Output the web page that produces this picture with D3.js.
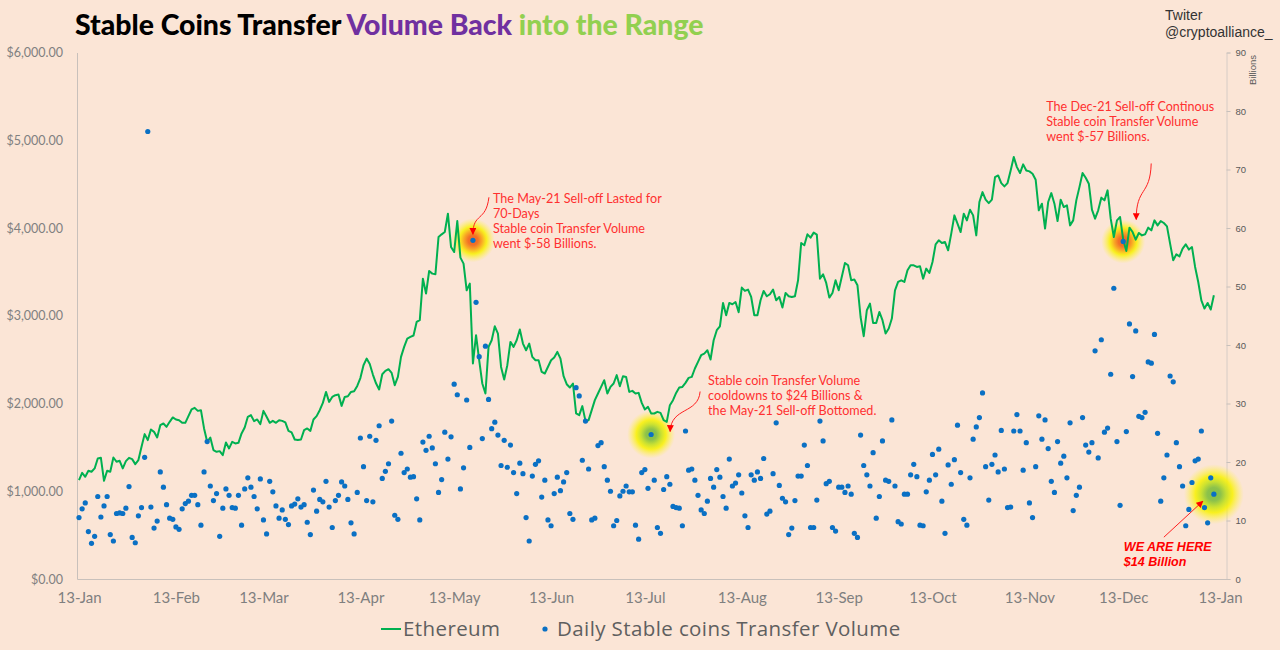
<!DOCTYPE html>
<html>
<head>
<meta charset="utf-8">
<script src="https://cdn.jsdelivr.net/npm/d3@7"></script>
<style>
  body { margin: 0; background: #fbe5d6; }
  svg { display: block; }
</style>
</head>
<body>
<script>
let w = 1280;
let h = 650;

// first day of both series (13-Jan-2021), one value per day after that
const startDay = Date.UTC(2021, 0, 13);

// ETH close in USD (null = could not read)
const ethPrice = [
  1127, 1210, 1165, 1233, 1222, 1260, 1374, 1381, 1119, 1233,
  1222, 1385, 1336, 1347, 1260, 1343, 1381, 1366, 1309, 1355,
  1506, 1651, 1583, 1704, 1677, 1613, 1753, 1772, 1734, 1791,
  1841, 1818, 1810, 1780, 1780, 1856, 1932, 1950, 1916, 1924,
  1716, 1563, 1613, 1469, 1449, 1457, 1412, 1556, 1488, 1563,
  1545, 1552, 1659, 1727, 1848, 1867, 1799, 1818, 1765, 1916,
  1848, 1780, 1802, 1780, 1810, 1802, 1784, 1688, 1670, 1590,
  1583, 1590, 1696, 1716, 1688, 1818, 1856, 1924, 2007, 2132,
  2018, 2075, 2095, 2102, 1973, 2075, 2083, 2132, 2140, 2200,
  2290, 2436, 2512, 2450, 2330, 2230, 2160, 2334, 2372, 2391,
  2349, 2209, 2303, 2531, 2645, 2740, 2759, 2775, 2929, 2949,
  3423, 3253, 3510, 3480, 3472, 3897, 3928, 3954, 4163, 3783,
  3726, 4079, 3662, 3594, 3290, 3366, 2456, 2778, 2493, 2228,
  2114, 2645, 2721, 2880, 2797, 2417, 2274, 2436, 2702, 2645,
  2721, 2843, 2683, 2607, 2683, 2531, 2493, 2493, 2360, 2342,
  null, 2493, 2524, 2588, 2512, 2311, 2220, 2182, 2228, 1887,
  1867, 1970, 1802, 1810, 1924, 2038, 2114, 2189, 2265, 2114,
  2189, 2228, 2323, 2197, 2311, 2303, 2132, 2144, 2114, 2121,
  2007, 1932, 1962, 1887, 1886, 1905, 1893, 1810, 1791, 1981,
  2038, 2121, 2182, 2189, 2235, 2292, 2303, 2399, 2474, 2550,
  2569, 2607, 2501, 2721, 2835, 2880, 3146, 3006, 3146, 3131,
  3157, 3040, 3321, 3283, 3298, 3214, 3006, 3006, 3176, 3283,
  3222, 3245, 3298, 3176, 3214, 3093, 3260, 3222, 3214, 3222,
  3404, 3829, 3803, 3928, 3890, 3947, 3924, 3423, 3472, 3374,
  3207, 3260, 3404, 3290, null, 3601, 3575, 3404, 3412, 3347,
  2986, 2767, 3063, 3139, 2918, 2918, 3043, 2949, 2797, 2854,
  2968, 3290, 3385, 3404, 3385, 3518, 3575, 3575, 3556, 3563,
  3423, 3537, 3487, 3613, 3814, 3860, 3829, 3840, 3746, 3936,
  4144, 4050, 3954, 4163, 4087, 4209, 4144, 3916, 4296, 4409,
  4323, 4284, 4323, 4580, 4599, 4512, 4474, 4512, 4656, 4808,
  4694, 4626, 4725, 4656, 4645, 4619, 4550, 4201, 4277, 3993,
  4296, 4398, 4277, 4079, 4323, 4239, 4258, 4030, 4087, 4315,
  4466, 4626, 4573, 4505, 4209, 4106, 4201, 4346, 4315, 4429,
  4106, 3897, 4087, 4125, 3867, 3738, 4004, 3954, 3867, 3943,
  3916, 3928, 4004, 3973, 4087, 4030, 4079, 4057, 4019, 3822,
  3632, 3700, 3677, 3765, 3814, 3754, 3783, 3556, 3385, 3176,
  3082, 3146, 3071, 3233,
];

// daily stable coin transfer volume, billions
const dailyVolume = [
  10.5, 12.0, 13.0, 8.1, 6.1, 7.3, 14.1, 10.6, 12.5, 14.1,
  7.6, 6.5, 11.2, 11.3, 11.2, 12.1, 15.8, 7.1, 6.2, 10.8,
  12.2, 20.8, 76.5, 12.3, 8.7, 9.9, 18.3, 15.7, 12.7, 10.4,
  10.2, 8.9, 8.5, 12.0, 12.9, 13.3, 14.3, 14.3, 12.7, 9.2,
  18.3, 23.5, 15.9, 13.4, 14.6, 7.3, 12.1, 15.4, 14.3, 12.2,
  12.1, 14.3, 9.2, 15.4, 17.3, 15.7, 14.1, 12.0, 17.1, 10.1,
  7.7, 16.7, 14.9, 12.5, 10.4, 11.8, 10.2, 9.3, 12.5, 12.8,
  13.7, 12.3, 12.7, 9.7, 7.6, 15.2, 11.6, 13.6, 13.2, 16.7,
  12.3, 8.8, 13.4, 14.3, 16.6, 15.9, 13.6, 9.6, 7.7, 14.8,
  24.1, 19.2, 13.4, 24.4,
  13.2, 23.7, 26.2, 17.2, 18.4, 19.7, 27.0, 10.9, 10.2, 21.5,
  18.2, 18.8, 17.4, 17.5, 13.7, 10.1, 23.4, 22.0, 24.4, 22.4,
  19.7, 14.8, 17.0, 25.1, 20.5, 24.3, 33.3, 31.5, 15.4, 19.0,
  30.6, 22.5, 57.9, 47.3, 38.0, 24.0, 39.8, 30.7, 25.7, 26.8,
  24.6, 19.4, 23.7, 19.1, 22.9, 18.2, 14.6, 19.8, 18.0, 10.5,
  6.5, 17.6, 19.6, 20.2, 14.0, 16.9, 10.1, 9.1, 14.6, 17.4,
  15.1, 16.6, 18.2, 11.2, 10.2, 32.7, 31.3, 20.3, 27.0, 18.8,
  10.1, 10.4, 22.8, 23.3, 19.2, 16.9, 15.0, 9.1, 10.0, 14.2,
  15.0, 15.9, 14.9, 14.9, 9.2, 6.8, 18.2, 18.7, 15.5, 24.7,
  16.9, 8.8, 7.8, 15.3, 17.5, 16.2, 12.4, 12.2, 12.1, 9.1,
  25.3, 18.6, 18.8, 16.9, 14.3, 11.8, 11.2, 13.3, 17.2, 15.7,
  18.7, 17.4, 14.1, 12.1, 20.5, 15.9, 16.4, 17.8, 14.7, 10.8,
  8.8, 17.8, 16.9, 18.3, 17.2, 20.6, 11.1, 11.6, 18.0, 26.7,
  16.0, 13.8, 13.2, 7.6, 8.7, 13.4, 17.6, 17.6, 22.9, 19.4,
  8.8, 8.8, 13.5, 27.0, 23.6, 16.3, 16.7, 8.8, 8.2, 15.7,
  15.7, 14.8, 15.9, 14.5, 7.8, 7.1, 24.6, 19.4, 17.8, 15.9,
  21.6, 10.4, 14.1, 23.6, 16.9, 16.7, 27.2, 15.9, 9.8, 9.4,
  14.5, 14.5, 17.8, 19.6, 17.5, 9.2, 9.1, 14.9, 16.9, 21.3,
  17.8, 22.2, 13.3, 7.8, 19.5,
  16.2, 20.4, 26.3, 18.2, 10.2, 9.2, 17.3, 23.9, 26.0, 27.6,
  31.8, 19.2, 13.5, 19.6, 21.2, 18.3, 25.4, 18.8, 12.2, 12.3,
  25.3, 28.1, 25.3, 18.6, 23.3, 13.0, 10.5, 19.2, 27.9, 23.9,
  27.2, 22.3, 16.7, 14.8, 23.5, 19.8, 21.0, 17.3, 26.7, 11.7,
  14.3, 15.7, 27.6, 22.9, 21.7, 23.3, 39.0, 20.7, 40.9, 25.1,
  25.8, 35.0, 49.7, 23.5, 12.6, 57.7, 25.2, 43.6, 34.6, 42.4,
  27.8, 27.6, 28.5, 37.1, 36.9, 41.8, 24.9, 13.3, 17.3, 21.2,
  34.7, 33.7, 23.3, 19.2, 15.9, 9.1, 11.9, 16.5, 20.2, 20.5,
  25.3, 12.2, 9.6, 17.3, 14.5,
];

// axis ticks
const xTickDates = [
  Date.UTC(2021, 0, 13), Date.UTC(2021, 1, 13), Date.UTC(2021, 2, 13),
  Date.UTC(2021, 3, 13), Date.UTC(2021, 4, 13), Date.UTC(2021, 5, 13),
  Date.UTC(2021, 6, 13), Date.UTC(2021, 7, 13), Date.UTC(2021, 8, 13),
  Date.UTC(2021, 9, 13), Date.UTC(2021, 10, 13), Date.UTC(2021, 11, 13),
  Date.UTC(2022, 0, 13),
];
const priceTicks = [0, 1000, 2000, 3000, 4000, 5000, 6000];
const volumeTicks = [0, 10, 20, 30, 40, 50, 60, 70, 80, 90];

// days that get a glow + note
const highlightDays = [126, 183, 334, 363];

const dayMs = 86400000;
function dayDate(i) {
  return new Date(startDay + i * dayMs);
}

//create our svg
let svg = d3.select("body").append("svg").attr("width", w).attr("height", h);

svg.append("rect").attr("width", w).attr("height", h).attr("fill", "#fbe5d6");

// plot box
let plotLeft = 77;
let plotRight = 1227;
let plotTop = 52.5;
let plotBottom = 579;

let x = d3
  .scaleUtc()
  .domain([new Date(startDay - 0.64 * dayMs), new Date(startDay + 367.2 * dayMs)])
  .range([plotLeft, plotRight]);
let yPrice = d3.scaleLinear().domain([0, 6000]).range([plotBottom, plotTop]);
let yVol = d3.scaleLinear().domain([0, 90]).range([plotBottom, plotTop]);

//title
let title = svg
  .append("text")
  .attr("x", 75)
  .attr("y", 35)
  .attr("font-family", "Lato, sans-serif")
  .attr("font-weight", 900)
  .attr("font-size", 28.4);
title.append("tspan").attr("fill", "#000000").text("Stable Coins Transfer ");
title.append("tspan").attr("fill", "#7030a0").text("Volume Back ");
title.append("tspan").attr("fill", "#92d050").text("into the Range");

svg
  .append("text")
  .attr("x", 1165)
  .attr("y", 20)
  .attr("font-family", "Liberation Sans, Arial, sans-serif")
  .attr("font-size", 14)
  .attr("fill", "#333333")
  .text("Twiter");
svg
  .append("text")
  .attr("x", 1165)
  .attr("y", 37)
  .attr("font-family", "Liberation Sans, Arial, sans-serif")
  .attr("font-size", 14)
  .attr("fill", "#333333")
  .text("@cryptoalliance_");

//left axis
let axisL = svg
  .append("g")
  .attr("transform", "translate(" + plotLeft + ",0)")
  .call(
    d3
      .axisLeft(yPrice)
      .tickValues(priceTicks)
      .tickSize(0)
      .tickPadding(14)
      .tickFormat(d3.format("$,.2f"))
  );
axisL.select(".domain").attr("stroke", "#c8c0bb");
axisL
  .selectAll("text")
  .attr("font-family", "Lato, sans-serif")
  .attr("font-size", 12.5)
  .attr("fill", "#808080");

//right axis
let axisR = svg
  .append("g")
  .attr("transform", "translate(" + (plotRight - 0.5) + ",0)")
  .call(d3.axisRight(yVol).tickValues(volumeTicks).tickSize(4).tickPadding(5));
axisR.select(".domain").attr("stroke", "#d6ccc6");
axisR.selectAll("line").attr("stroke", "#c8c0bb");
axisR
  .selectAll("text")
  .attr("font-family", "Liberation Sans, Arial, sans-serif")
  .attr("font-size", 9.5)
  .attr("fill", "#595959");

svg
  .append("text")
  .attr("transform", "translate(1256,70) rotate(-90)")
  .attr("text-anchor", "middle")
  .attr("font-family", "Liberation Sans, Arial, sans-serif")
  .attr("font-size", 9.5)
  .attr("fill", "#595959")
  .text("Billions");

//bottom axis
let axisB = svg
  .append("g")
  .attr("transform", "translate(0," + plotBottom + ")")
  .call(
    d3
      .axisBottom(x)
      .tickValues(xTickDates.map(function (d) {
        return new Date(d);
      }))
      .tickSize(0)
      .tickPadding(13)
      .tickFormat(d3.utcFormat("%d-%b"))
  );
axisB.select(".domain").attr("stroke", "#c8c0bb");
axisB
  .selectAll("text")
  .attr("font-family", "Lato, sans-serif")
  .attr("font-size", 15)
  .attr("fill", "#7f7f7f");

//glows behind the marks
let defs = svg.append("defs");
function glowGradient(id, core, mid) {
  let g = defs.append("radialGradient").attr("id", id);
  g.append("stop").attr("offset", "0%").attr("stop-color", core);
  g.append("stop").attr("offset", "22%").attr("stop-color", core).attr("stop-opacity", 0.95);
  g.append("stop").attr("offset", "42%").attr("stop-color", mid).attr("stop-opacity", 0.95);
  g.append("stop").attr("offset", "62%").attr("stop-color", "#f8f200").attr("stop-opacity", 0.85);
  g.append("stop").attr("offset", "100%").attr("stop-color", "#fff24a").attr("stop-opacity", 0);
}
glowGradient("glowOrange", "#f26a1e", "#f9a91c");
glowGradient("glowGreen", "#86c044", "#c6e02a");

let glowStyle = [
  { fill: "url(#glowOrange)", r: 22 },
  { fill: "url(#glowGreen)", r: 24 },
  { fill: "url(#glowOrange)", r: 22 },
  { fill: "url(#glowGreen)", r: 30 },
];

svg
  .selectAll("circle.glow")
  .data(highlightDays)
  .enter()
  .append("circle")
  .attr("class", "glow")
  .attr("cx", function (d) {
    return x(dayDate(d));
  })
  .attr("cy", function (d) {
    return yVol(dailyVolume[d]);
  })
  .attr("r", function (d, i) {
    return glowStyle[i].r;
  })
  .attr("fill", function (d, i) {
    return glowStyle[i].fill;
  });

//ethereum line
let ethPoints = ethPrice
  .map(function (v, i) {
    return { day: i, price: v };
  })
  .filter(function (d) {
    return d.price !== null;
  });

let line = d3
  .line()
  .x(function (d) {
    return x(dayDate(d.day));
  })
  .y(function (d) {
    return yPrice(d.price);
  });

svg
  .append("path")
  .datum(ethPoints)
  .attr("d", line)
  .attr("fill", "none")
  .attr("stroke", "#00b050")
  .attr("stroke-width", 2)
  .attr("stroke-linejoin", "round");

//add dots
svg
  .selectAll("circle.vol")
  .data(dailyVolume)
  .enter()
  .append("circle")
  .attr("class", "vol")
  .attr("cx", function (d, i) {
    return x(dayDate(i));
  })
  .attr("cy", function (d) {
    return yVol(d);
  })
  .attr("r", 2.6)
  .attr("fill", "#0a70c4");

//notes
defs
  .append("marker")
  .attr("id", "arrow")
  .attr("viewBox", "0 0 10 10")
  .attr("refX", 9)
  .attr("refY", 5)
  .attr("markerWidth", 7)
  .attr("markerHeight", 7)
  .attr("orient", "auto")
  .append("path")
  .attr("d", "M0,0 L10,5 L0,10 z")
  .attr("fill", "#ff0000");

function anchor(day) {
  return [x(dayDate(day)), yVol(dailyVolume[day])];
}

function note(day, dx, dy, lines, opts) {
  let a = anchor(day);
  let t = svg
    .append("text")
    .attr("x", a[0] + dx)
    .attr("y", a[1] + dy)
    .attr("font-family", opts.font)
    .attr("font-size", opts.size)
    .attr("font-weight", opts.weight || "normal")
    .attr("font-style", opts.style || "normal")
    .attr("fill", opts.color);
  lines.forEach(function (s, i) {
    t.append("tspan")
      .attr("x", a[0] + dx)
      .attr("dy", i === 0 ? 0 : opts.step)
      .text(s);
  });
}

function arrow(day, pts) {
  let a = anchor(day);
  let p = pts.map(function (q) {
    return [a[0] + q[0], a[1] + q[1]];
  });
  let d =
    "M" + p[0] + (p.length === 4 ? " C" + p[1] + " " + p[2] + " " + p[3] : " L" + p[1]);
  svg
    .append("path")
    .attr("d", d)
    .attr("fill", "none")
    .attr("stroke", "#ff2020")
    .attr("stroke-width", 1)
    .attr("marker-end", "url(#arrow)");
}

let noteStyle = { font: "Lato, sans-serif", size: 12.6, color: "#ff3030", step: 15 };

note(126, 20, -37, [
  "The May-21 Sell-off Lasted for",
  "70-Days",
  "Stable coin Transfer Volume",
  "went $-58 Billions.",
], noteStyle);
arrow(126, [[16, -43], [13, -18], [0, -28], [0, -6]]);

note(183, 57, -50, [
  "Stable coin Transfer Volume",
  "cooldowns to $24 Billions &",
  "the May-21 Sell-off Bottomed.",
], noteStyle);
arrow(183, [[49, -43], [47, -20], [20, -28], [19, -3]]);

note(334, -77, -130, [
  "The Dec-21 Sell-off Continous",
  "Stable coin Transfer Volume",
  "went $-57 Billions.",
], noteStyle);
arrow(334, [[28, -78], [27, -45], [13, -55], [13, -22]]);

note(363, -90, 57, ["WE ARE HERE", "$14 Billion"], {
  font: "Liberation Sans, Arial, sans-serif",
  size: 12.5,
  weight: "bold",
  style: "italic",
  color: "#ff0000",
  step: 15,
});
arrow(363, [[-50, 43], [-11, 7]]);

//legend
svg
  .append("line")
  .attr("x1", 381)
  .attr("x2", 401)
  .attr("y1", 629)
  .attr("y2", 629)
  .attr("stroke", "#00b050")
  .attr("stroke-width", 2);
svg
  .append("text")
  .attr("x", 403)
  .attr("y", 636)
  .attr("font-family", "Open Sans, sans-serif")
  .attr("font-size", 20.5)
  .attr("letter-spacing", 0.4)
  .attr("fill", "#5f5f5f")
  .text("Ethereum");
svg
  .append("circle")
  .attr("cx", 545)
  .attr("cy", 629)
  .attr("r", 2.6)
  .attr("fill", "#0a70c4");
svg
  .append("text")
  .attr("x", 557)
  .attr("y", 636)
  .attr("font-family", "Open Sans, sans-serif")
  .attr("font-size", 20.5)
  .attr("letter-spacing", 0.4)
  .attr("fill", "#5f5f5f")
  .text("Daily Stable coins Transfer Volume");
</script>
</body>
</html>
